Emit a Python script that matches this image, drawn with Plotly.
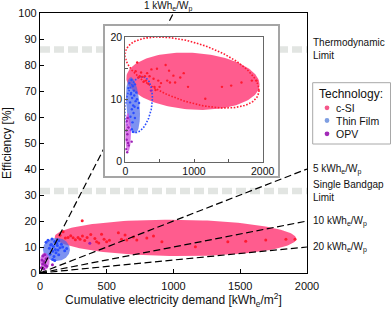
import numpy as np
import plotly.graph_objects as go

# ---------------- data ----------------
tech_names = ["c-SI", "Thin Film", "OPV"]
legend_colors = ["#f5578a", "#7f9fe2", "#a22ab8"]
fill_colors = ["rgba(255,64,122,0.85)", "rgba(70,100,235,0.70)", "rgba(205,70,225,0.72)"]
dot_colors = ["#ff1a30", "#2a4dff", "#9b1fb5"]

csi_demand = [150, 173, 190, 210, 230, 248, 265, 285, 300, 318, 335, 353, 380, 411, 424, 440,
              461, 480, 499, 520, 587, 610, 637, 650, 700, 725, 800, 850, 913, 1164, 1407, 1541,
              1691, 1842, 1910, 316]
csi_eff = [14.5, 15.9, 13.5, 13.7, 14.3, 13.6, 12.8, 13.7, 13.0, 14.2, 12.5, 13.7, 14.8, 13.3, 12.0, 11.5,
           14.9, 13.0, 12.0, 12.6, 15.5, 13.0, 14.6, 12.7, 13.8, 12.7, 13.5, 14.2, 12.0, 10.1, 12.0, 12.2,
           12.7, 13.0, 13.0, 20.1]

tf_demand = [45, 60, 70, 75, 85, 90, 95, 100, 105, 110, 115, 120, 125, 130, 135, 140, 150, 160,
             170, 185, 200, 95, 80, 110, 140]
tf_eff = [11.8, 12.6, 9.5, 7.2, 11.0, 13.1, 8.4, 10.2, 6.3, 12.1, 9.0, 7.8, 11.4, 10.6, 8.8, 12.4, 9.7, 11.1,
          10.0, 8.6, 9.4, 5.2, 10.8, 4.8, 7.0]

opv_demand = [10, 15, 20, 22, 28, 30, 35, 40, 45, 50, 373, 93]
opv_eff = [2.0, 5.0, 3.5, 6.5, 1.5, 4.4, 7.0, 3.0, 5.5, 2.6, 11.4, 3.2]

# ellipse summaries per technology: centre x, centre y, half-width, half-height, correlation
main_cx = [1015, 123, 36]
main_cy = [13.5, 9.05, 4.5]
main_sx = [905, 101, 36]
main_sy = [7.0, 4.45, 3.3]
main_rho = [-0.05, 0.0, 0.0]

inset_cx = [985, 112, 39]
inset_cy = [12.9, 9.05, 4.7]
inset_sx = [970, 102, 45]
inset_sy = [4.6, 4.5, 3.1]
inset_rho = [-0.12, -0.3, 0.0]

dotted_cx = [971, 195]
dotted_cy = [14.3, 9.15]
dotted_sx = [975, 200]
dotted_sy = [5.7, 4.5]
dotted_rho = [-0.5, 0.25]

ratio_values = [1, 5, 10, 20]          # kWh_e / W_p
limit_values = [86, 31.5]              # %
limit_labels = ["Thermodynamic<br>Limit", "Single Bandgap<br>Limit"]

# ---------------- geometry ----------------
W, H = 392, 309
L, R, T, B = 40, 85, 13, 36
PW, PH = W - L - R, H - T - B


def px_x(px):
    return (px - L) / PW


def px_y(py):
    return (H - B - py) / PH


def ellipse(cx, cy, sx, sy, rho, n=160):
    t = np.linspace(0, 2 * np.pi, n)
    x = cx + sx * np.cos(t)
    y = cy + sy * (rho * np.cos(t) + np.sqrt(1 - rho ** 2) * np.sin(t))
    return x, y


FONT = "Liberation Sans, Arial, sans-serif"
fig = go.Figure()

# ---- main plot ----
for v in limit_values:
    fig.add_trace(go.Scatter(x=[0, 2000], y=[v, v], mode="lines",
                             line=dict(color="#e2e5e2", width=6.5, dash="10px,4px"),
                             showlegend=False, hoverinfo="skip"))

series = [(csi_demand, csi_eff), (tf_demand, tf_eff), (opv_demand, opv_eff)]
for i in range(3):
    ex, ey = ellipse(main_cx[i], main_cy[i], main_sx[i], main_sy[i], main_rho[i])
    fig.add_trace(go.Scatter(x=ex, y=ey, mode="lines", fill="toself", fillcolor=fill_colors[i],
                             line=dict(width=0), showlegend=False, hoverinfo="skip"))
for i in range(3):
    fig.add_trace(go.Scatter(x=series[i][0], y=series[i][1], mode="markers",
                             marker=dict(color=dot_colors[i], size=3), showlegend=False))

for r in ratio_values:
    fig.add_trace(go.Scatter(x=[0, 2000], y=[0, 2000 / (10 * r)], mode="lines",
                             line=dict(color="black", width=1.2, dash="7px,3.5px"),
                             showlegend=False, hoverinfo="skip"))

# ---- inset frame (white box) ----
fig.add_trace(go.Scatter(x=[None], y=[None], xaxis="x2", yaxis="y2", showlegend=False, hoverinfo="skip"))

# ---- inset ----
for i in range(3):
    ex, ey = ellipse(inset_cx[i], inset_cy[i], inset_sx[i], inset_sy[i], inset_rho[i])
    fig.add_trace(go.Scatter(x=ex, y=ey, mode="lines", fill="toself", fillcolor=fill_colors[i],
                             line=dict(width=0), xaxis="x3", yaxis="y3",
                             showlegend=False, hoverinfo="skip"))
    if i < 2:
        dx, dy = ellipse(dotted_cx[i], dotted_cy[i], dotted_sx[i], dotted_sy[i], dotted_rho[i])
        fig.add_trace(go.Scatter(x=dx, y=dy, mode="lines",
                                 line=dict(color=dot_colors[i], width=1.6, dash="1.6px,1.6px"),
                                 xaxis="x3", yaxis="y3", showlegend=False, hoverinfo="skip"))
for i in range(3):
    fig.add_trace(go.Scatter(x=series[i][0], y=series[i][1], mode="markers",
                             marker=dict(color=dot_colors[i], size=2.4), xaxis="x3", yaxis="y3",
                             showlegend=False))

# ---------------- annotations ----------------
ann = []
sub = "kWh<sub>e</sub>/W<sub>p</sub>"
ann.append(dict(text="1 " + sub, xref="paper", yref="paper", x=px_x(168), y=px_y(6),
                showarrow=False, font=dict(size=10, color="#111", family=FONT),
                xanchor="center", yanchor="middle"))
for r in ratio_values[1:]:
    ann.append(dict(text=f"{r} " + sub, xref="paper", yref="y", x=px_x(311), y=2000 / (10 * r),
                    showarrow=False, font=dict(size=10, color="#111", family=FONT),
                    xanchor="left", yanchor="middle"))
for v, t in zip(limit_values, limit_labels):
    ann.append(dict(text=t, xref="paper", yref="y", x=px_x(311), y=v, align="left",
                    showarrow=False, font=dict(size=10, color="#111", family=FONT),
                    xanchor="left", yanchor="middle"))

# custom legend
ann.append(dict(text="Technology:", xref="paper", yref="paper", x=px_x(317), y=px_y(93.5),
                showarrow=False, font=dict(size=12, color="#111", family=FONT),
                xanchor="left", yanchor="middle"))
shapes = [dict(type="rect", xref="paper", yref="paper", x0=px_x(312.7), x1=px_x(390.5),
               y0=px_y(144), y1=px_y(82.7), line=dict(color="#a8a8a8", width=1), fillcolor="white")]
row_y = [107.8, 120.5, 133.8]
for name, col, yy in zip(tech_names, legend_colors, row_y):
    ann.append(dict(text=name, xref="paper", yref="paper", x=px_x(334), y=px_y(yy),
                    showarrow=False, font=dict(size=10.5, color="#111", family=FONT),
                    xanchor="left", yanchor="middle"))
    shapes.append(dict(type="circle", xref="paper", yref="paper", xsizemode="pixel", ysizemode="pixel",
                       xanchor=px_x(327), yanchor=px_y(yy), x0=-2.4, x1=2.4, y0=-2.4, y1=2.4,
                       fillcolor=col, line=dict(width=0)))

# ---------------- layout ----------------
axis_common = dict(showgrid=False, zeroline=False, ticks="inside", showline=True, mirror=True,
                   automargin=False)

fig.update_layout(
    width=W, height=H, margin=dict(l=L, r=R, t=T, b=B, autoexpand=False),
    paper_bgcolor="white", plot_bgcolor="white",
    font=dict(family=FONT, color="#111"),
    showlegend=False,
    xaxis=dict(axis_common, domain=[0, 1], range=[0, 2000], tickvals=[0, 500, 1000, 1500, 2000],
               ticklen=4, tickcolor="black", linecolor="black", linewidth=1.3,
               tickfont=dict(size=11), ticklabelstandoff=3,
               title=dict(text="Cumulative electricity demand [kWh<sub>e</sub>/m<sup>2</sup>]",
                          font=dict(size=12), standoff=8)),
    yaxis=dict(axis_common, domain=[0, 1], range=[0, 100], tickvals=list(range(0, 101, 10)),
               ticklen=4, tickcolor="black", linecolor="black", linewidth=1.3,
               tickfont=dict(size=11),
               title=dict(text="Efficiency [%]", font=dict(size=12), standoff=4)),
    xaxis2=dict(domain=[px_x(105), px_x(278)], range=[0, 1], anchor="y2", showgrid=False, zeroline=False,
                showticklabels=False, ticks="", showline=True, mirror=True, linecolor="#a5a5a5",
                linewidth=1.6, automargin=False),
    yaxis2=dict(domain=[px_y(176), px_y(26)], range=[0, 1], anchor="x2", showgrid=False, zeroline=False,
                showticklabels=False, ticks="", showline=True, mirror=True, linecolor="#a5a5a5",
                linewidth=1.6, automargin=False),
    xaxis3=dict(axis_common, domain=[px_x(125.3), px_x(262.7)], range=[0, 2000], anchor="y3",
                tickvals=[0, 500, 1000, 1500, 2000], ticktext=["0", "", "1000", "", "2000"],
                ticklen=3, tickcolor="#555", linecolor="#666", linewidth=1.2, tickfont=dict(size=10.5)),
    yaxis3=dict(axis_common, domain=[px_y(161.6), px_y(37)], range=[0, 20], anchor="x3",
                tickvals=[0, 5, 10, 15, 20], ticktext=["0", "", "10", "", "20"],
                ticklen=3, tickcolor="#555", linecolor="#666", linewidth=1.2, tickfont=dict(size=10.5)),
    annotations=ann,
    shapes=shapes,
)

fig.write_html("out.html", config={"displayModeBar": False},
               post_script="document.body.style.margin='0';document.body.style.padding='0';")
